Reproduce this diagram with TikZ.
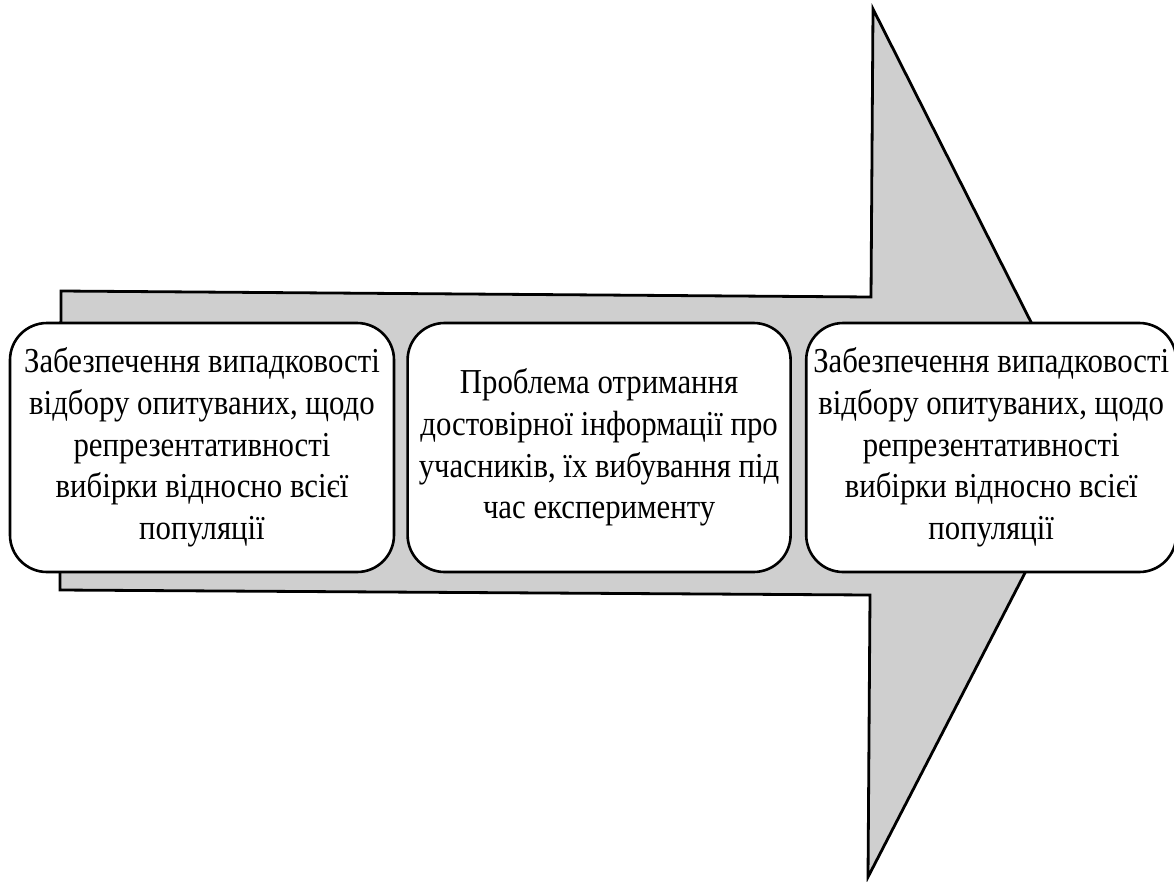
\documentclass[tikz,border=0pt]{standalone}
\usepackage{fontspec}
\setmainfont{Liberation Serif}
\newfontfamily\boxfont[FakeStretch=0.88]{Liberation Serif}
\usetikzlibrary{positioning}
\definecolor{arrowgray}{RGB}{207,207,207}
\tikzset{
  block/.style={draw, line width=2.6pt, fill=white, rounded corners=37pt,
    align=center, minimum height=249pt, inner sep=0pt,
    font=\boxfont\fontsize{35}{41.7}\selectfont},
}
\begin{document}
\begin{tikzpicture}[x=1pt,y=-1pt]
\useasboundingbox (0,0) rectangle (1174,881);
% big arrow behind the boxes
\draw[line width=2.8pt, fill=arrowgray, line join=miter]
  (61,291) -- (871,297) -- (873,9) -- (1092,443) -- (868,877)
  -- (870,595) -- (60,590) -- cycle;
% boxes
\node[block, minimum width=384pt] (vybir) at (202,447.5)
  {Забезпечення випадковості\\відбору опитуваних, щодо\\репрезентативності\\вибірки відносно всієї\\популяції};
\node[block, minimum width=383pt, right=11pt of vybir] (problema)
  {Проблема отримання\\достовірної інформації про\\учасників, їх вибування під\\час експерименту};
\node[block, minimum width=370pt, right=13pt of problema] (vybir2)
  {Забезпечення випадковості\\відбору опитуваних, щодо\\репрезентативності\\вибірки відносно всієї\\популяції};
\end{tikzpicture}
\end{document}
